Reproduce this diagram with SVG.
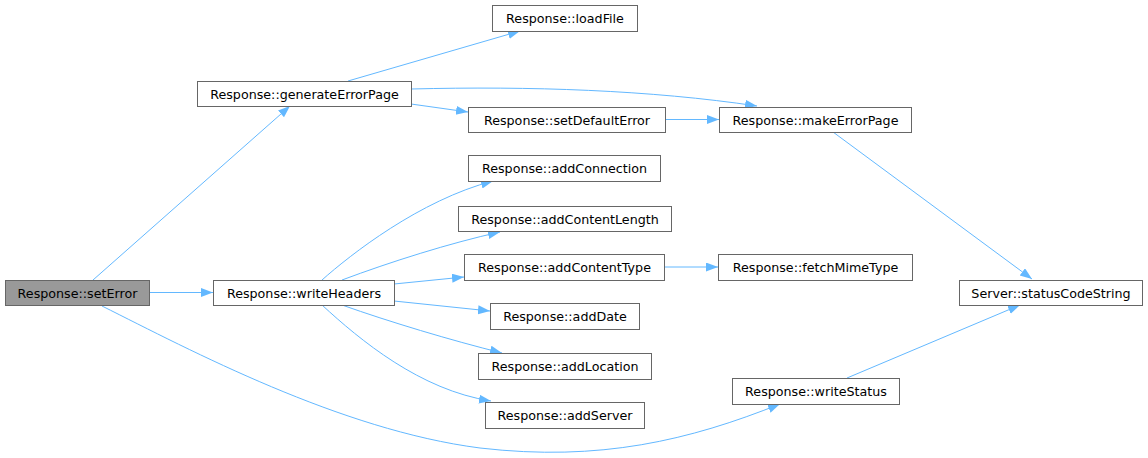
<svg xmlns="http://www.w3.org/2000/svg" width="1148" height="458" viewBox="0 0 1148 458">
<style>
.node rect{fill:#ffffff;stroke:#666666;stroke-width:1}
.node.root rect{fill:#999999}
.node text{font-family:"DejaVu Sans","Liberation Sans",sans-serif;font-size:12.7px;fill:#000000;text-anchor:middle}
.edges path{fill:none;stroke:#63b8ff;stroke-width:1;marker-end:url(#arr)}
</style>
<defs>
<marker id="arr" markerUnits="userSpaceOnUse" markerWidth="13" markerHeight="10" refX="12" refY="4.5" orient="auto">
<path d="M0,0 L12,4.5 L0,9 z" fill="#63b8ff"/>
</marker>
</defs>
<rect width="1148" height="458" fill="#ffffff"/>
<g class="edges">
<path d="M93,280 L290,106"/>
<path d="M149,292.5 L213,292.5"/>
<path d="M102,306 C190,350 340,430 480,448 C600,462 690,440 780,404"/>
<path d="M348,81 L520,31"/>
<path d="M411,89 C530,86 650,90 757,106"/>
<path d="M411,104 L468,112"/>
<path d="M665,119.5 L719,119.5"/>
<path d="M833,132 L1032,279"/>
<path d="M322,280 C350,255 420,200 493,181"/>
<path d="M342,280 C390,262 450,243 500,232"/>
<path d="M394,284 L464,277"/>
<path d="M394,301 L490,311"/>
<path d="M342,305 C390,322 450,340 502,353"/>
<path d="M322,305 C360,340 420,390 491,401"/>
<path d="M664,267 L718,267"/>
<path d="M847,378 L1020,305"/>
</g>
<g id="setError" class="node root"><rect x="5.5" y="280.5" width="144" height="25"/><text x="77.5" y="297.5">Response::setError</text></g>
<g id="writeHeaders" class="node"><rect x="213.5" y="280.5" width="181" height="25"/><text x="304" y="297.5">Response::writeHeaders</text></g>
<g id="generateErrorPage" class="node"><rect x="197.5" y="81.5" width="214" height="25"/><text x="304.5" y="98.5">Response::generateErrorPage</text></g>
<g id="loadFile" class="node"><rect x="492.5" y="5.5" width="145" height="26"/><text x="565" y="23">Response::loadFile</text></g>
<g id="setDefaultError" class="node"><rect x="468.5" y="107.5" width="197" height="25"/><text x="567" y="124.5">Response::setDefaultError</text></g>
<g id="makeErrorPage" class="node"><rect x="719.5" y="107.5" width="192" height="25"/><text x="815.5" y="124.5">Response::makeErrorPage</text></g>
<g id="addConnection" class="node"><rect x="468.5" y="155.5" width="192" height="26"/><text x="564.5" y="173">Response::addConnection</text></g>
<g id="addContentLength" class="node"><rect x="458.5" y="206.5" width="213" height="25"/><text x="565" y="223.5">Response::addContentLength</text></g>
<g id="addContentType" class="node"><rect x="464.5" y="254.5" width="200" height="26"/><text x="564.5" y="272">Response::addContentType</text></g>
<g id="fetchMimeType" class="node"><rect x="718.5" y="254.5" width="194" height="26"/><text x="815.5" y="272">Response::fetchMimeType</text></g>
<g id="addDate" class="node"><rect x="490.5" y="303.5" width="149" height="26"/><text x="565" y="321">Response::addDate</text></g>
<g id="addLocation" class="node"><rect x="478.5" y="353.5" width="173" height="26"/><text x="565" y="371">Response::addLocation</text></g>
<g id="addServer" class="node"><rect x="485.5" y="402.5" width="159" height="26"/><text x="565" y="420">Response::addServer</text></g>
<g id="writeStatus" class="node"><rect x="732.5" y="378.5" width="167" height="26"/><text x="816" y="396">Response::writeStatus</text></g>
<g id="statusCodeString" class="node"><rect x="959.5" y="280.5" width="183" height="25"/><text x="1051" y="297.5">Server::statusCodeString</text></g>
</svg>
